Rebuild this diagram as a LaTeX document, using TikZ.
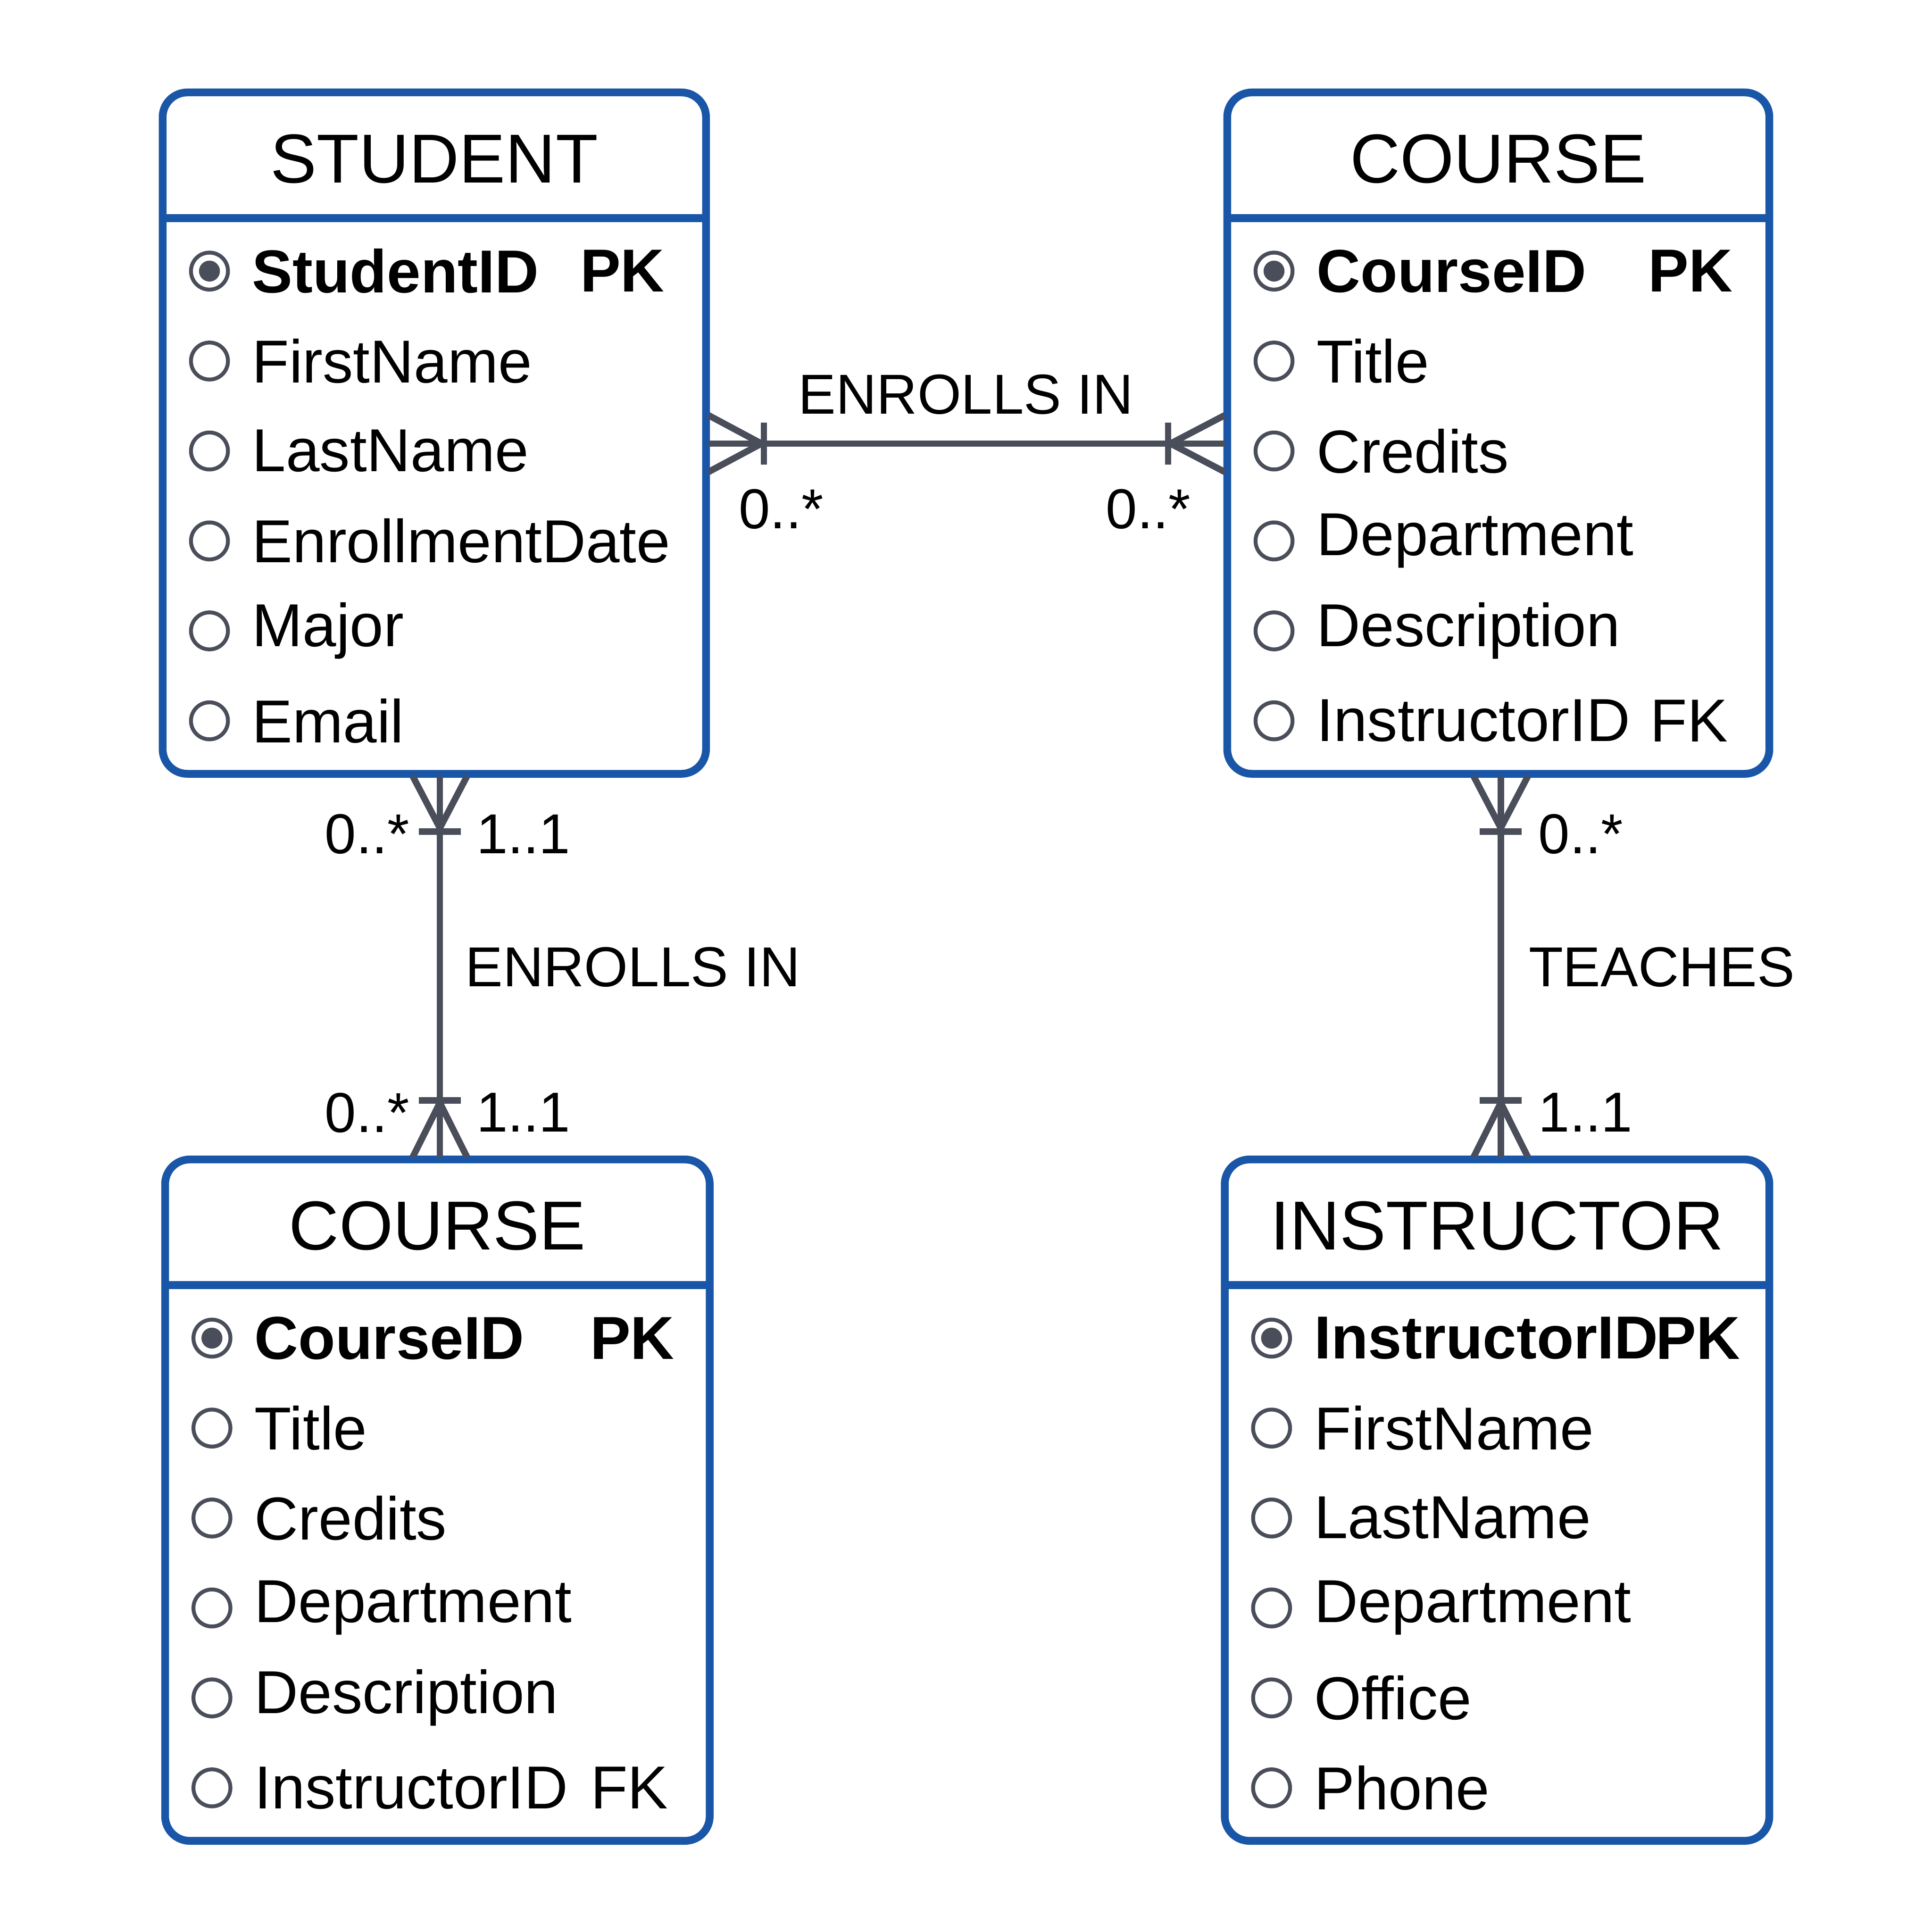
\documentclass[tikz,border=0pt]{standalone}
\usepackage{fontspec}
\setmainfont{Liberation Sans}
\begin{document}
\begin{tikzpicture}[x=0.01cm,y=-0.01cm,
  box/.style={draw=eblue,line width=1.8pt,rounded corners=0.2cm},
  hline/.style={draw=eblue,line width=1.8pt},
  conn/.style={draw=cgray,line width=1.5pt},
  attr/.style={anchor=west,font=\fontsize{14}{16}\selectfont,inner sep=0pt},
  pk/.style={attr,font=\fontsize{14}{16}\selectfont\bfseries},
  title/.style={font=\fontsize{16}{18}\selectfont,inner sep=0pt},
  lab/.style={font=\fontsize{13}{15}\selectfont,inner sep=0pt,text=black},
  circ/.style={draw=cgray,line width=0.9pt,fill=white}]
\definecolor{eblue}{HTML}{1A56A8}
\definecolor{cgray}{HTML}{4A4E5A}
\useasboundingbox (0,0) rectangle (1568,1568);
\fill[white] (0,0) rectangle (1568,1568);
% entity macro-like drawing
\newcommand{\entity}[8]{% #1 name, #2 x0, #3 y0, #4 x1, #5 title, #6 pk name, #7 pk x, #8 rows
  \draw[box] (#2,#3) rectangle (#4,#3+553);
  \draw[hline] (#2,#3+102) -- (#4,#3+102);
  \node[title] (#1-t) at ({(#2+#4)/2},#3+54) {#5};
  \draw[circ] (#2+38,#3+145) circle (0.15cm);
  \fill[cgray] (#2+38,#3+145) circle (0.085cm);
  \node[pk] (#1-pk) at (#2+72,#3+145) {#6};
  \node[pk,anchor=east] (#1-pkl) at (#7,#3+145) {PK};
  \foreach \n [count=\i] in {#8} {
    \draw[circ] (#2+38,#3+145+73*\i) circle (0.15cm);
    \node[attr] (#1-a\i) at (#2+72,#3+145+73*\i) {\n};
  }
}
\entity{s}{132}{75}{573}{STUDENT}{StudentID}{540}{FirstName,LastName,EnrollmentDate,Major,Email}
\entity{c1}{996}{75}{1436}{COURSE}{CourseID}{1407}{Title,Credits,Department,Description,InstructorID}
\node[attr,anchor=east] (fk1) at (1403,585) {FK};
\entity{c2}{134}{941}{576}{COURSE}{CourseID}{548}{Title,Credits,Department,Description,InstructorID}
\node[attr,anchor=east] (fk2) at (543,1451) {FK};
\entity{i}{994}{941}{1436}{INSTRUCTOR}{InstructorID}{1413}{FirstName,LastName,Department,Office,Phone}
% coordinates
\coordinate (h1) at (575,360); \coordinate (h2) at (994,360);
\coordinate (v1) at (357,630); \coordinate (v2) at (357,939);
\coordinate (w1) at (1218,630); \coordinate (w2) at (1218,939);
% horizontal
\draw[conn] (h1) -- (h2);
\draw[conn] (575,337) -- (618,360) -- (575,383);
\draw[conn] (620,343) -- (620,377);
\draw[conn] (994,337) -- (950,360) -- (994,383);
\draw[conn] (948,343) -- (948,377);
\node[lab] (l1) at (784,320) {ENROLLS IN};
\node[lab] (l2) at (634,413) {0..*};
\node[lab] (l3) at (932,413) {0..*};
% left vertical
\draw[conn] (v1) -- (v2);
\draw[conn] (335,630) -- (357,672) -- (379,630);
\draw[conn] (340,675) -- (374,675);
\draw[conn] (335,939) -- (357,895) -- (379,939);
\draw[conn] (340,893) -- (374,893);
\node[lab,anchor=east] (l4) at (333,677) {0..*};
\node[lab,anchor=west] (l5) at (386,677) {1..1};
\node[lab,anchor=east] (l6) at (333,903) {0..*};
\node[lab,anchor=west] (l7) at (386,903) {1..1};
\node[lab,anchor=west] (l8) at (377,785) {ENROLLS IN};
% right vertical
\draw[conn] (w1) -- (w2);
\draw[conn] (1196,630) -- (1218,672) -- (1240,630);
\draw[conn] (1201,675) -- (1235,675);
\draw[conn] (1196,939) -- (1218,895) -- (1240,939);
\draw[conn] (1201,893) -- (1235,893);
\node[lab,anchor=west] (l9) at (1248,677) {0..*};
\node[lab,anchor=west] (l10) at (1248,903) {1..1};
\node[lab,anchor=west] (l11) at (1240,785) {TEACHES};
\end{tikzpicture}
\end{document}
